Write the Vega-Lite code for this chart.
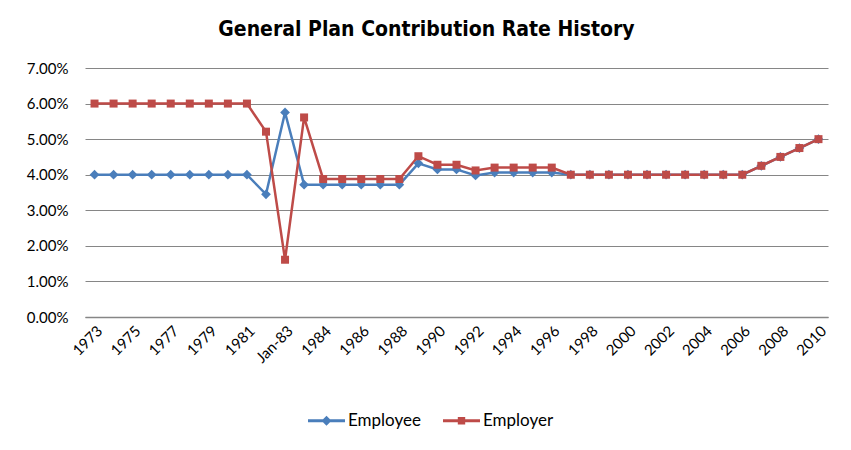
{
  "$schema": "https://vega.github.io/schema/vega-lite/v6.json",
  "autosize": {"type": "none"},
  "width": 743,
  "height": 249,
  "padding": {"left": 85, "top": 68, "right": 23, "bottom": 133},
  "background": "white",
  "title": {
    "text": "General Plan Contribution Rate History",
    "font": "DejaVu Sans Condensed",
    "fontSize": 21,
    "fontWeight": "bold",
    "color": "#000000",
    "anchor": "middle",
    "dx": -30,
    "offset": 21
  },
  "config": {
    "view": {"stroke": null},
    "font": "Lato"
  },
  "data": {
    "values": [
      {"year": "1973", "series": "Employee", "rate": 0.04},
      {"year": "1974", "series": "Employee", "rate": 0.04},
      {"year": "1975", "series": "Employee", "rate": 0.04},
      {"year": "1976", "series": "Employee", "rate": 0.04},
      {"year": "1977", "series": "Employee", "rate": 0.04},
      {"year": "1978", "series": "Employee", "rate": 0.04},
      {"year": "1979", "series": "Employee", "rate": 0.04},
      {"year": "1980", "series": "Employee", "rate": 0.04},
      {"year": "1981", "series": "Employee", "rate": 0.04},
      {"year": "1982", "series": "Employee", "rate": 0.0345},
      {"year": "Jan-83", "series": "Employee", "rate": 0.0575},
      {"year": "Jul-83", "series": "Employee", "rate": 0.0372},
      {"year": "1984", "series": "Employee", "rate": 0.0372},
      {"year": "1985", "series": "Employee", "rate": 0.0372},
      {"year": "1986", "series": "Employee", "rate": 0.0372},
      {"year": "1987", "series": "Employee", "rate": 0.0372},
      {"year": "1988", "series": "Employee", "rate": 0.0372},
      {"year": "1989", "series": "Employee", "rate": 0.0432},
      {"year": "1990", "series": "Employee", "rate": 0.0415},
      {"year": "1991", "series": "Employee", "rate": 0.0415},
      {"year": "1992", "series": "Employee", "rate": 0.0398},
      {"year": "1993", "series": "Employee", "rate": 0.0406},
      {"year": "1994", "series": "Employee", "rate": 0.0406},
      {"year": "1995", "series": "Employee", "rate": 0.0406},
      {"year": "1996", "series": "Employee", "rate": 0.0406},
      {"year": "1997", "series": "Employee", "rate": 0.04},
      {"year": "1998", "series": "Employee", "rate": 0.04},
      {"year": "1999", "series": "Employee", "rate": 0.04},
      {"year": "2000", "series": "Employee", "rate": 0.04},
      {"year": "2001", "series": "Employee", "rate": 0.04},
      {"year": "2002", "series": "Employee", "rate": 0.04},
      {"year": "2003", "series": "Employee", "rate": 0.04},
      {"year": "2004", "series": "Employee", "rate": 0.04},
      {"year": "2005", "series": "Employee", "rate": 0.04},
      {"year": "2006", "series": "Employee", "rate": 0.04},
      {"year": "2007", "series": "Employee", "rate": 0.0425},
      {"year": "2008", "series": "Employee", "rate": 0.045},
      {"year": "2009", "series": "Employee", "rate": 0.0475},
      {"year": "2010", "series": "Employee", "rate": 0.05},
      {"year": "1973", "series": "Employer", "rate": 0.06},
      {"year": "1974", "series": "Employer", "rate": 0.06},
      {"year": "1975", "series": "Employer", "rate": 0.06},
      {"year": "1976", "series": "Employer", "rate": 0.06},
      {"year": "1977", "series": "Employer", "rate": 0.06},
      {"year": "1978", "series": "Employer", "rate": 0.06},
      {"year": "1979", "series": "Employer", "rate": 0.06},
      {"year": "1980", "series": "Employer", "rate": 0.06},
      {"year": "1981", "series": "Employer", "rate": 0.06},
      {"year": "1982", "series": "Employer", "rate": 0.0521},
      {"year": "Jan-83", "series": "Employer", "rate": 0.0161},
      {"year": "Jul-83", "series": "Employer", "rate": 0.0561},
      {"year": "1984", "series": "Employer", "rate": 0.0388},
      {"year": "1985", "series": "Employer", "rate": 0.0388},
      {"year": "1986", "series": "Employer", "rate": 0.0388},
      {"year": "1987", "series": "Employer", "rate": 0.0388},
      {"year": "1988", "series": "Employer", "rate": 0.0388},
      {"year": "1989", "series": "Employer", "rate": 0.0452},
      {"year": "1990", "series": "Employer", "rate": 0.0428},
      {"year": "1991", "series": "Employer", "rate": 0.0428},
      {"year": "1992", "series": "Employer", "rate": 0.0412},
      {"year": "1993", "series": "Employer", "rate": 0.042},
      {"year": "1994", "series": "Employer", "rate": 0.042},
      {"year": "1995", "series": "Employer", "rate": 0.042},
      {"year": "1996", "series": "Employer", "rate": 0.042},
      {"year": "1997", "series": "Employer", "rate": 0.04},
      {"year": "1998", "series": "Employer", "rate": 0.04},
      {"year": "1999", "series": "Employer", "rate": 0.04},
      {"year": "2000", "series": "Employer", "rate": 0.04},
      {"year": "2001", "series": "Employer", "rate": 0.04},
      {"year": "2002", "series": "Employer", "rate": 0.04},
      {"year": "2003", "series": "Employer", "rate": 0.04},
      {"year": "2004", "series": "Employer", "rate": 0.04},
      {"year": "2005", "series": "Employer", "rate": 0.04},
      {"year": "2006", "series": "Employer", "rate": 0.04},
      {"year": "2007", "series": "Employer", "rate": 0.0425},
      {"year": "2008", "series": "Employer", "rate": 0.045},
      {"year": "2009", "series": "Employer", "rate": 0.0475},
      {"year": "2010", "series": "Employer", "rate": 0.05}
    ]
  },
  "encoding": {
    "x": {
      "field": "year",
      "type": "ordinal",
      "sort": null,
      "scale": {"type": "point", "padding": 0.5},
      "axis": {
        "title": null,
        "values": ["1973","1975","1977","1979","1981","Jan-83","1984","1986","1988","1990","1992","1994","1996","1998","2000","2002","2004","2006","2008","2010"],
        "labelAngle": -45,
        "labelFont": "Lato",
        "labelFontSize": 15,
        "labelColor": "#000000",
        "ticks": false,
        "labelPadding": 6,
        "domainColor": "#868686",
        "domainWidth": 1.5,
        "grid": false
      }
    },
    "y": {
      "field": "rate",
      "type": "quantitative",
      "scale": {"domain": [0, 0.07], "nice": false},
      "axis": {
        "title": null,
        "format": ".2%",
        "values": [0, 0.01, 0.02, 0.03, 0.04, 0.05, 0.06, 0.07],
        "labelFont": "Lato",
        "labelFontSize": 15,
        "labelColor": "#000000",
        "ticks": false,
        "labelPadding": 17,
        "domain": false,
        "grid": true,
        "gridColor": "#868686",
        "gridWidth": 1
      }
    },
    "color": {
      "field": "series",
      "type": "nominal",
      "scale": {"domain": ["Employee", "Employer"], "range": ["#4A7EBB", "#BE4B48"]},
      "legend": {
        "title": null,
        "orient": "none",
        "direction": "horizontal",
        "legendX": 223,
        "legendY": 334,
        "symbolSize": 1369,
        "labelFont": "Lato",
        "labelFontSize": 17,
        "labelColor": "#000000",
        "labelOffset": 3,
        "columnPadding": 22,
        "encode": {
          "symbols": {
            "update": {
              "shape": {"signal": "datum.value === 'Employee' ? 'M-1,-0.08H1V0.08H-1Z M0,-0.27L0.27,0L0,0.27L-0.27,0Z' : 'M-1,-0.08H1V0.08H-1Z M-0.2,-0.2H0.2V0.2H-0.2Z'"},
              "size": {"value": 1369},
              "fill": {"signal": "datum.value === 'Employee' ? '#4A7EBB' : '#BE4B48'"},
              "stroke": {"value": "transparent"},
              "strokeWidth": {"value": 0},
              "opacity": {"value": 1}
            }
          }
        }
      }
    }
  },
  "layer": [
    {
      "mark": {"type": "line", "strokeWidth": 2.5},
      "encoding": {"detail": {"field": "series"}}
    },
    {
      "transform": [{"filter": "datum.series === 'Employee'"}],
      "mark": {"type": "point", "filled": true, "opacity": 1, "shape": "diamond", "size": 95}
    },
    {
      "transform": [{"filter": "datum.series === 'Employer'"}],
      "mark": {"type": "point", "filled": true, "opacity": 1, "shape": "square", "size": 64}
    }
  ]
}
